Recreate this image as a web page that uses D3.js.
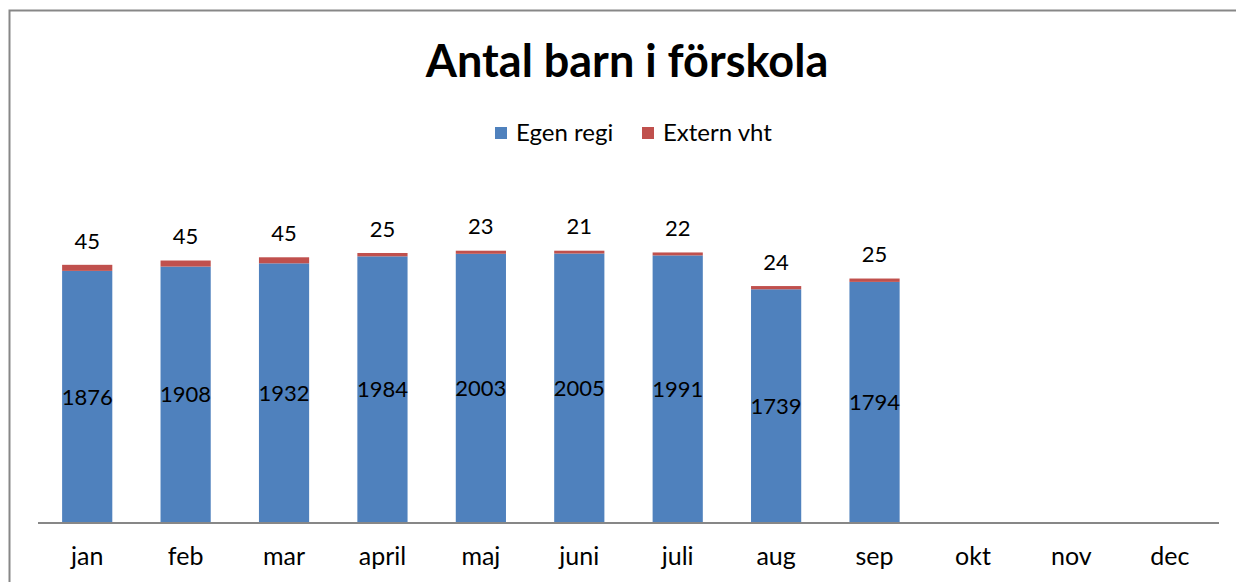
<!DOCTYPE html>
<html>
<head>
<meta charset="utf-8">
<script src="https://cdn.jsdelivr.net/npm/d3@7"></script>
<style>
  body { margin: 0; background: #fff; }
  svg { display: block; font-family: Lato, "Open Sans", sans-serif; }
</style>
</head>
<body>
<script>
const months = ["jan", "feb", "mar", "april", "maj", "juni", "juli", "aug", "sep", "okt", "nov", "dec"];
const egenRegi = [1876, 1908, 1932, 1984, 2003, 2005, 1991, 1739, 1794, null, null, null];
const externVht = [45, 45, 45, 25, 23, 21, 22, 24, 25, null, null, null];
const seriesNames = ["Egen regi", "Extern vht"];

const width = 1236;
const height = 582;
const blue = "#4f81bd";
const red = "#c0504d";

const svg = d3.select("body").append("svg").attr("width", width).attr("height", height);

// chart frame (only top and left edge show inside the window)
svg.append("rect")
    .attr("x", 9.5).attr("y", 10.5)
    .attr("width", 1240).attr("height", 600)
    .attr("fill", "none").attr("stroke", "#878787").attr("stroke-width", 2);

svg.append("text")
    .attr("x", 627).attr("y", 77)
    .attr("text-anchor", "middle")
    .attr("font-size", 45).attr("font-weight", "bold")
    .text("Antal barn i förskola");

// legend
const legend = svg.append("g").attr("font-size", 24);
const legendX = [495, 642];
seriesNames.forEach((name, i) => {
    legend.append("rect").attr("x", legendX[i]).attr("y", 127).attr("width", 12).attr("height", 12)
        .attr("fill", i === 0 ? blue : red);
    legend.append("text").attr("x", legendX[i] + 21).attr("y", 141).text(name);
});

const x = d3.scaleBand().domain(months).range([38, 1219]).paddingInner(0.49).paddingOuter(0.245);
const y = d3.scaleLinear().domain([0, 2500]).range([523, 187]);

const rows = months.map((m, i) => ({ month: m, egen: egenRegi[i], extern: externVht[i] }))
    .filter(d => d.egen != null);

const bars = svg.append("g");
bars.selectAll("rect.egen").data(rows).enter().append("rect")
    .attr("class", "egen")
    .attr("x", d => x(d.month)).attr("width", x.bandwidth())
    .attr("y", d => y(d.egen)).attr("height", d => y(0) - y(d.egen))
    .attr("fill", blue);
bars.selectAll("rect.extern").data(rows).enter().append("rect")
    .attr("class", "extern")
    .attr("x", d => x(d.month)).attr("width", x.bandwidth())
    .attr("y", d => y(d.egen + d.extern)).attr("height", d => y(d.egen) - y(d.egen + d.extern))
    .attr("fill", red);

// axis
const xAxis = svg.append("g").attr("transform", "translate(0,523)")
    .call(d3.axisBottom(x).tickSize(0).tickPadding(24));
xAxis.select(".domain").attr("stroke", "#878787").attr("stroke-width", 2)
    .attr("d", "M38,0H1219");
xAxis.selectAll("text").attr("font-size", 25).attr("fill", "#000").attr("font-family", "Lato, sans-serif");

// value labels
const labels = svg.append("g").attr("font-size", 22).attr("text-anchor", "middle");
labels.selectAll("text.egen").data(rows).enter().append("text")
    .attr("x", d => x(d.month) + x.bandwidth() / 2)
    .attr("y", d => (y(0) + y(d.egen)) / 2)
    .attr("dy", "0.35em")
    .text(d => d.egen);
labels.selectAll("text.extern").data(rows).enter().append("text")
    .attr("x", d => x(d.month) + x.bandwidth() / 2)
    .attr("y", d => y(d.egen + d.extern) - 24)
    .attr("dy", "0.35em")
    .text(d => d.extern);
</script>
</body>
</html>
